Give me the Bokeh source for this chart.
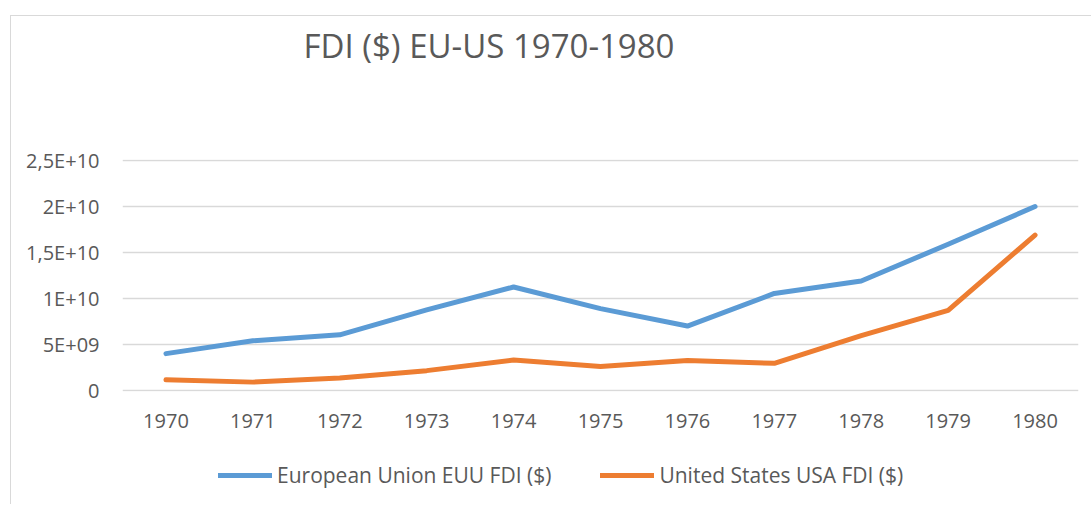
from bokeh.plotting import figure
from bokeh.layouts import column
from bokeh.models import (FactorRange, Range1d, FixedTicker, CustomJSTickFormatter,
                          Legend, LegendItem, ColumnDataSource, Label)
from bokeh.embed import file_html
from bokeh.resources import INLINE

years = ["1970", "1971", "1972", "1973", "1974", "1975", "1976", "1977", "1978", "1979", "1980"]
eu_fdi = [4.0e9, 5.4e9, 6.05e9, 8.75e9, 11.25e9, 8.9e9, 7.0e9, 10.55e9, 11.9e9, 15.9e9, 20.0e9]
us_fdi = [1.15e9, 0.9e9, 1.35e9, 2.15e9, 3.3e9, 2.6e9, 3.25e9, 2.95e9, 5.95e9, 8.7e9, 16.9e9]
y_ticks = [0, 5e9, 1e10, 1.5e10, 2e10, 2.5e10]
title_text = "FDI ($) EU-US 1970-1980"
eu_label = "European Union EUU FDI ($)"
us_label = "United States USA FDI ($)"

FONT = "Open Sans"
TXT = "#595959"
EU_COLOR = "#5B9BD5"
US_COLOR = "#ED7D31"

src = ColumnDataSource(dict(year=years, eu=eu_fdi, us=us_fdi))


def strip(h):
    f = figure(width=1080, height=h, x_range=Range1d(0, 1), y_range=Range1d(0, 1),
               output_backend="svg", toolbar_location=None,
               min_border_left=111, min_border_right=13, min_border_top=0, min_border_bottom=0)
    f.axis.visible = False
    f.grid.visible = False
    f.outline_line_color = None
    f.border_fill_color = "white"
    return f


# title strip
p0 = strip(64)
p0.add_layout(Label(x=181, y=35, x_units="screen", y_units="screen", text=title_text,
                    text_font=FONT, text_font_size="33px", text_color=TXT,
                    text_align="left", text_baseline="middle"))

# main chart
p = figure(width=1080, height=366, x_range=FactorRange(*years, range_padding=0),
           y_range=Range1d(-1.2e8, 2.512e10), output_backend="svg", toolbar_location=None,
           min_border_left=111, min_border_right=13, min_border_top=79, min_border_bottom=55)
p.outline_line_color = None
p.background_fill_color = "white"
p.border_fill_color = "white"

p.line("year", "eu", source=src, line_width=5, color=EU_COLOR,
       line_cap="round", line_join="round")
p.line("year", "us", source=src, line_width=5, color=US_COLOR,
       line_cap="round", line_join="round")

p.xgrid.grid_line_color = None
p.ygrid.grid_line_color = "#d9d9d9"
p.ygrid.grid_line_width = 1.5
p.yaxis.ticker = FixedTicker(ticks=y_ticks)
p.yaxis.formatter = CustomJSTickFormatter(code="""
if (tick == 0) return "0";
var e = Math.floor(Math.log10(Math.abs(tick)) + 1e-9);
var m = Math.round(tick / Math.pow(10, e) * 10) / 10;
var ms = m.toString().replace(".", ",");
var es = (e < 10 ? "0" : "") + e;
return ms + "E+" + es;
""")

for ax in (p.xaxis[0], p.yaxis[0]):
    ax.axis_line_color = None
    ax.major_tick_line_color = None
    ax.minor_tick_line_color = None
    ax.major_label_text_font = FONT
    ax.major_label_text_font_size = "20px"
    ax.major_label_text_color = TXT
p.yaxis.major_label_standoff = 17
p.xaxis.major_label_standoff = 16

# legend strip below the chart (series drawn off-view; only their legend glyphs show)
p2 = figure(width=1080, height=58, x_range=p.x_range, y_range=Range1d(-2, -1),
            output_backend="svg", toolbar_location=None,
            min_border_left=111, min_border_right=13, min_border_top=0, min_border_bottom=0)
p2.axis.visible = False
p2.grid.visible = False
p2.outline_line_color = None
p2.border_fill_color = "white"
l_eu = p2.line("year", "eu", source=src, line_width=5, color=EU_COLOR, line_cap="round")
l_us = p2.line("year", "us", source=src, line_width=5, color=US_COLOR, line_cap="round")
legend = Legend(items=[LegendItem(label=eu_label, renderers=[l_eu]),
                       LegendItem(label=us_label, renderers=[l_us])],
                orientation="horizontal", location=(96, 15))
legend.label_text_font = FONT
legend.label_text_font_size = "21px"
legend.label_text_color = TXT
legend.glyph_width = 54
legend.glyph_height = 24
legend.label_standoff = 5
legend.spacing = 49
legend.border_line_color = None
legend.background_fill_alpha = 0
legend.padding = 0
legend.margin = 0
p2.add_layout(legend, "center")

layout = column(p0, p, p2, spacing=0)
layout.styles = {"border-left": "1px solid #d9d9d9", "border-top": "1px solid #d9d9d9",
                 "margin-left": "10px", "margin-top": "15px"}

open("out.html", "w").write(file_html(layout, INLINE))
